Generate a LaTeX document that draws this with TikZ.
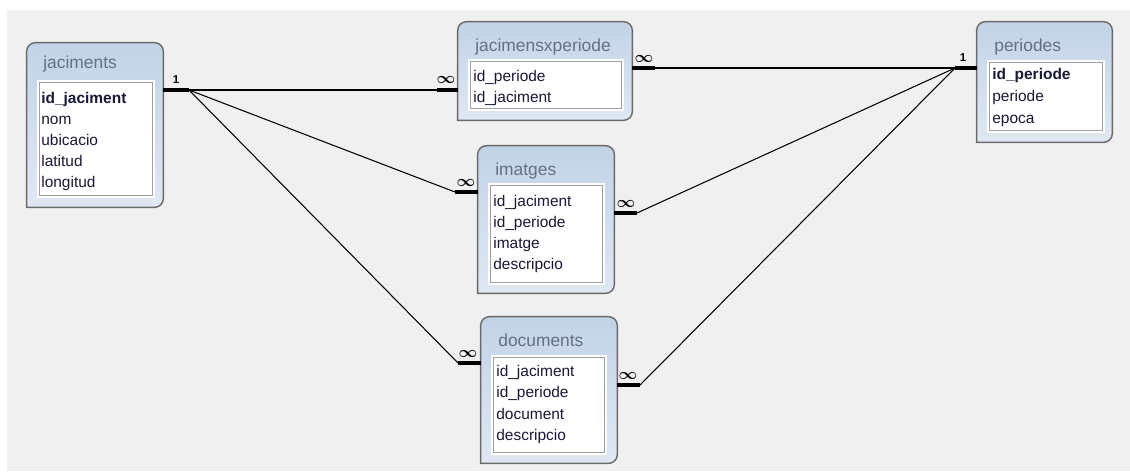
\documentclass[tikz,border=0pt]{standalone}
\usepackage{fontspec}
\setmainfont{Liberation Sans}

\definecolor{canvas}{RGB}{240,240,240}
\definecolor{framegray}{RGB}{105,105,105}
\definecolor{shadetop}{RGB}{194,211,231}
\definecolor{shadebot}{RGB}{223,232,243}
\definecolor{titlegray}{RGB}{100,112,132}
\definecolor{fieldink}{RGB}{25,25,55}
\definecolor{listrule}{RGB}{160,160,160}

\tikzset{
  tablebox/.style={inner sep=0pt},
  listbox/.style={draw=listrule,fill=white,line width=0.6pt,
    preaction={draw=white,line width=2.4pt},inner sep=0pt,anchor=north west},
  tabletitle/.style={anchor=base west,inner sep=0pt,text=titlegray,
    font=\fontsize{9.9}{11}\selectfont},
  field/.style={anchor=base west,inner sep=0pt,text=fieldink,
    font=\fontsize{8.8}{10}\selectfont},
  keybar/.style={line width=2pt},
  link/.style={line width=0.6pt},
  cardone/.style={inner sep=0pt,font=\fontsize{6.5}{7}\selectfont\bfseries},
  cardmany/.style={inner sep=0pt,font=\fontsize{9.5}{10}\selectfont\boldmath},
}

% table outline: round top, square bottom
\newcommand\tableframe[1]{%
  \shade[top color=shadetop,bottom color=shadebot,draw=framegray,line width=0.8pt]
    (#1.south west) [rounded corners=5pt] -- (#1.north west) -- (#1.north east)
    -- (#1.south east) [sharp corners] -- cycle;}

\begin{document}
\begin{tikzpicture}[x=0.02cm,y=-0.02cm]
\useasboundingbox (0,0) rectangle (1130,471);
\fill[canvas] (7,10) rectangle (1130,471);

\path [tablebox]
    (95,125) node [minimum width=2.72cm,minimum height=3.28cm] (jaciments) {}
    (545,71) node [minimum width=3.48cm,minimum height=1.96cm] (jxp) {}
    (1044.5,82) node [minimum width=2.7cm,minimum height=2.4cm] (periodes) {}
    (546,219.5) node [minimum width=2.72cm,minimum height=2.94cm] (imatges) {}
    (549,390) node [minimum width=2.72cm,minimum height=2.92cm] (documents) {};
\tableframe{jaciments}
\tableframe{jxp}
\tableframe{periodes}
\tableframe{imatges}
\tableframe{documents}

\path
    (43,68) node [tabletitle] (jactitle) {jaciments}
    (39,82) node [listbox,minimum width=2.26cm,minimum height=2.26cm] (jaclist) {}
    [field]
    (41,103) node (jac1) {\textbf{id\_jaciment}}
    (41,124) node (jac2) {nom}
    (41,145) node (jac3) {ubicacio}
    (41,166) node (jac4) {latitud}
    (41,187) node (jac5) {longitud};
\path
    (475,51) node [tabletitle] (jxptitle) {jacimensxperiode}
    (470,61) node [listbox,minimum width=3.02cm,minimum height=0.94cm] (jxplist) {}
    [field]
    (473,81) node (jxp1) {id\_periode}
    (473,102) node (jxp2) {id\_jaciment};
\path
    (994,51) node [tabletitle] (pertitle) {periodes}
    (989,62) node [listbox,minimum width=2.26cm,minimum height=1.36cm] (perlist) {}
    [field]
    (992,79) node (per1) {\textbf{id\_periode}}
    (992,101) node (per2) {periode}
    (992,123) node (per3) {epoca};
\path
    (495,175) node [tabletitle] (imgtitle) {imatges}
    (490,185) node [listbox,minimum width=2.24cm,minimum height=1.94cm] (imglist) {}
    [field]
    (493,206) node (img1) {id\_jaciment}
    (493,227) node (img2) {id\_periode}
    (493,248) node (img3) {imatge}
    (493,269) node (img4) {descripcio};
\path
    (498,346) node [tabletitle] (doctitle) {documents}
    (493,357) node [listbox,minimum width=2.22cm,minimum height=1.9cm] (doclist) {}
    [field]
    (496,376) node (doc1) {id\_jaciment}
    (496,397) node (doc2) {id\_periode}
    (496,419) node (doc3) {document}
    (496,440) node (doc4) {descripcio};

\coordinate (jacone) at (189,90);
\coordinate (perone) at (955,68);
\coordinate (jxpin) at (437,90);
\coordinate (jxpout) at (655,68);
\coordinate (imgin) at (455,192);
\coordinate (imgout) at (637,213);
\coordinate (docin) at (458,363);
\coordinate (docout) at (640,385);

\draw [keybar] (jaciments.east |- jacone) -- (jacone);
\draw [keybar] (periodes.west |- perone) -- (perone);
\draw [keybar] (jxpin) -- (jxpin -| jxp.west);
\draw [keybar] (jxp.east |- jxpout) -- (jxpout);
\draw [keybar] (imgin) -- (imgin -| imatges.west);
\draw [keybar] (imatges.east |- imgout) -- (imgout);
\draw [keybar] (docin) -- (docin -| documents.west);
\draw [keybar] (documents.east |- docout) -- (docout);

\draw [link] (jacone) -- (jxpin);
\draw [link] (jacone) -- (imgin);
\draw [link] (jacone) -- (docin);
\draw [link] (jxpout) -- (perone);
\draw [link] (imgout) -- (perone);
\draw [link] (docout) -- (perone);

\path
    (176,80) node [cardone] (jaccard) {1}
    (963,58) node [cardone] (percard) {1}
    [cardmany]
    (446,80) node (jxpcardin) {$\infty$}
    (644,59) node (jxpcardout) {$\infty$}
    (466,183) node (imgcardin) {$\infty$}
    (626,204) node (imgcardout) {$\infty$}
    (468,354) node (doccardin) {$\infty$}
    (628,376) node (doccardout) {$\infty$};
\end{tikzpicture}
\end{document}
